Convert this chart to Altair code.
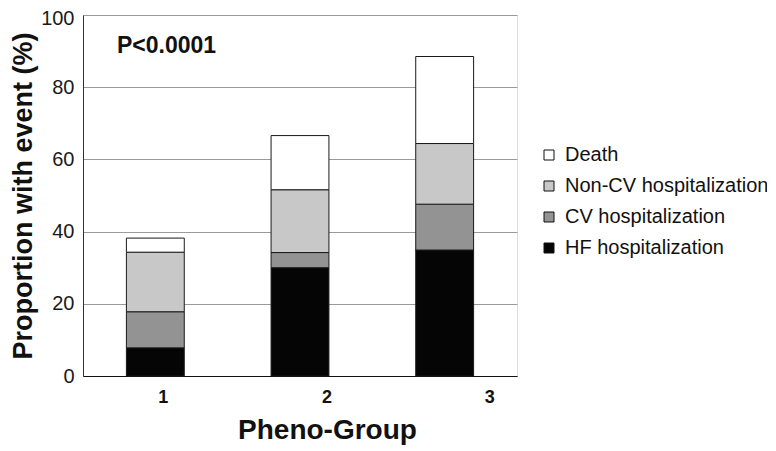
import altair as alt
import pandas as pd

groups = ["1", "2", "3"]
hf_hosp = [7.8, 30.0, 34.9]
cv_hosp = [10.0, 4.2, 12.7]
noncv_hosp = [16.5, 17.4, 16.8]
death = [3.9, 15.0, 24.1]

series_names = ["Death", "Non-CV hospitalization", "CV hospitalization", "HF hospitalization"]
series_colors = ["#ffffff", "#c8c8c8", "#939393", "#050505"]
stack_rank = {"HF hospitalization": 1, "CV hospitalization": 2,
              "Non-CV hospitalization": 3, "Death": 4}

rows = []
for name, vals in [("HF hospitalization", hf_hosp), ("CV hospitalization", cv_hosp),
                   ("Non-CV hospitalization", noncv_hosp), ("Death", death)]:
    for g, v in zip(groups, vals):
        rows.append({"group": g, "event": name, "value": v, "rank": stack_rank[name]})
df = pd.DataFrame(rows)

FONT = "Liberation Sans"

bars = alt.Chart(df).mark_bar(stroke="#1a1a1a", strokeWidth=1).encode(
    x=alt.X("group:N", title="Pheno-Group",
            scale=alt.Scale(paddingInner=0.6, paddingOuter=0.3),
            axis=alt.Axis(labelAngle=0, labelFont=FONT, labelFontSize=18, labelFontWeight="bold",
                          labelColor="#111", labelPadding=12, ticks=False,
                          domainColor="#111", domainWidth=1,
                          labelOffset={"expr": "datum.value == '1' ? 8 : (datum.value == '2' ? 27 : 45)"},
                          titleFont=FONT, titleFontSize=28, titleFontWeight="bold", titleColor="#111",
                          titleX=244, titlePadding=10)),
    y=alt.Y("value:Q", stack="zero", title="Proportion with event (%)",
            scale=alt.Scale(domain=[0, 100], nice=False),
            axis=alt.Axis(values=[0, 20, 40, 60, 80, 100], ticks=False, grid=True,
                          gridColor="#9a9a9a", gridWidth=1, domainColor="#333",
                          labelFont=FONT, labelFontSize=20, labelColor="#1a1a1a", labelPadding=9,
                          labelOffset={"expr": "datum.value == 100 ? 3 : 0"},
                          titleFont=FONT, titleFontSize=27, titleFontWeight="bold", titleColor="#111",
                          titlePadding=3)),
    color=alt.Color("event:N", scale=alt.Scale(domain=series_names, range=series_colors),
                    legend=alt.Legend(title=None, orient="none", legendX=456, legendY=130,
                                      symbolType="square", symbolSize=100, symbolStrokeColor="#111",
                                      symbolStrokeWidth=1, symbolOpacity=1,
                                      labelFont=FONT, labelFontSize=20, labelColor="#111",
                                      labelLimit=0, labelOffset=6, rowPadding=11)),
    order=alt.Order("rank:Q", sort="ascending"),
)

ptext = alt.Chart(pd.DataFrame({"t": ["P<0.0001"]})).mark_text(
    align="left", baseline="alphabetic", font=FONT, fontSize=23, fontWeight="bold", color="#111"
).encode(text="t:N", x=alt.value(34), y=alt.value(38))

chart = alt.layer(bars, ptext).properties(
    width=434, height=361,
    autosize=alt.AutoSizeParams(type="none"),
    padding={"left": 75, "top": 7, "right": 250, "bottom": 70},
).configure_view(stroke=None).configure(background="white")

chart.save("out.html", embed_options={"renderer": "svg", "actions": False})
